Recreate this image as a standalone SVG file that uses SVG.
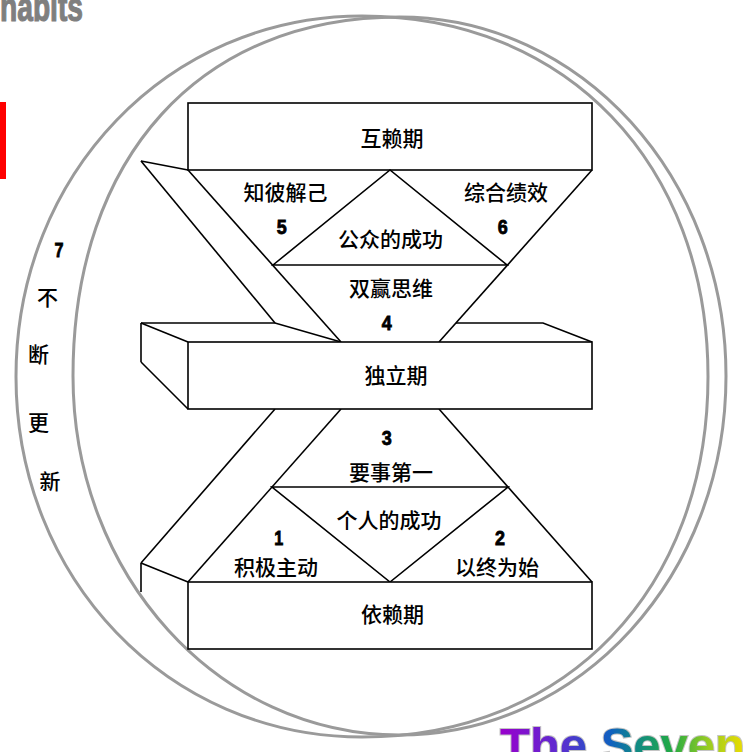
<svg xmlns="http://www.w3.org/2000/svg" width="747" height="752" viewBox="0 0 747 752">
<style>
.ring{fill:none;stroke:#9a9a9a;stroke-width:3}
.ln{fill:none;stroke:#000;stroke-width:1.6;stroke-linejoin:miter}
.box{fill:#fff;stroke:#000;stroke-width:1.6}
.cn{font-family:"Noto Sans CJK SC","Noto Sans",sans-serif;font-size:21px;font-weight:500;fill:#000;text-anchor:middle;dominant-baseline:central}
.num{font-family:"Liberation Sans Narrow","Liberation Sans",sans-serif;font-size:20px;font-weight:bold;fill:#000;stroke:#000;stroke-width:0.8;text-anchor:middle}
</style>
<defs>
<linearGradient id="rainbow" gradientUnits="userSpaceOnUse" x1="500" y1="0" x2="745" y2="0">
<stop offset="0" stop-color="#9900cc"/>
<stop offset="0.25" stop-color="#5a2ed0"/>
<stop offset="0.45" stop-color="#1060c0"/>
<stop offset="0.55" stop-color="#108888"/>
<stop offset="0.7" stop-color="#22aa44"/>
<stop offset="0.85" stop-color="#99cc22"/>
<stop offset="1" stop-color="#eedd00"/>
</linearGradient>
</defs>
<rect x="0" y="0" width="747" height="752" fill="#fff"/>

<!-- header remnants -->
<text x="0" y="21" font-family="'Liberation Sans Narrow','Liberation Sans',sans-serif" font-size="40" font-weight="bold" fill="#7f7f7f" stroke="#7f7f7f" stroke-width="1.2" textLength="83" lengthAdjust="spacingAndGlyphs">habits</text>
<rect x="0" y="102" width="6" height="77" fill="#ff0000"/>

<!-- renewal rings -->
<g id="renewal-rings">
<path class="ring" d="M16,376.5 C16,174.6 168.2,16 362,16 C566.1,16 708,163.8 708,376.5 C708,589.2 566.1,737 362,737 C168.2,737 16,578.4 16,376.5 Z"/>
<path class="ring" d="M73,376 C73,157 200.3,17 399.5,17 C580.7,17 726,176.8 726,376 C726,575.2 580.7,735 399.5,735 C218.3,735 73,575.2 73,376 Z"/>
</g>

<!-- connectors -->
<g id="connectors">
<line class="ln" x1="141" y1="161" x2="188" y2="170"/>
<line class="ln" x1="141" y1="161" x2="275" y2="323"/>
<line class="ln" x1="188" y1="170" x2="341" y2="342"/>
<line class="ln" x1="592" y1="170" x2="439" y2="342"/>
<line class="ln" x1="141" y1="323" x2="141" y2="362"/>
<line class="ln" x1="141" y1="362" x2="188" y2="409"/>
<line class="ln" x1="141" y1="323" x2="188" y2="342"/>
<polyline class="ln" points="141,323 275,323 341,342"/>
<polyline class="ln" points="456,323 543,323 592,342"/>
<line class="ln" x1="275" y1="409" x2="141" y2="563"/>
<line class="ln" x1="341" y1="409" x2="188" y2="582"/>
<line class="ln" x1="439" y1="409" x2="592" y2="582"/>
<line class="ln" x1="141" y1="563" x2="188" y2="582"/>
<line class="ln" x1="141" y1="563" x2="141" y2="592"/>
</g>

<g id="interdependence">
<rect class="box" x="188" y="103" width="404" height="67"/>
<text class="cn" x="392" y="137">互赖期</text>
</g>

<g id="public-victory">
<polygon class="ln" points="273,265 390,170 507,265"/>
<text class="cn" x="390.5" y="237.5">公众的成功</text>
</g>

<g id="habit5">
<text class="cn" x="285.5" y="191">知彼解己</text>
<text class="num" x="281.7" y="234" textLength="10" lengthAdjust="spacingAndGlyphs">5</text>
</g>

<g id="habit6">
<text class="cn" x="506" y="191">综合绩效</text>
<text class="num" x="502.7" y="234" textLength="10" lengthAdjust="spacingAndGlyphs">6</text>
</g>

<g id="habit4">
<text class="cn" x="391" y="286.5">双赢思维</text>
<text class="num" x="386.7" y="330" textLength="10" lengthAdjust="spacingAndGlyphs">4</text>
</g>

<g id="independence">
<rect class="box" x="188" y="342" width="404" height="67"/>
<text class="cn" x="396" y="373.5">独立期</text>
</g>

<g id="habit3">
<text class="num" x="386.7" y="445" textLength="10" lengthAdjust="spacingAndGlyphs">3</text>
<text class="cn" x="391" y="470.5">要事第一</text>
</g>

<g id="private-victory">
<polygon class="ln" points="272,487 508,487 390,582"/>
<text class="cn" x="389" y="518.5">个人的成功</text>
</g>

<g id="habit1">
<text class="num" x="278.7" y="545" textLength="9" lengthAdjust="spacingAndGlyphs">1</text>
<text class="cn" x="276" y="566">积极主动</text>
</g>

<g id="habit2">
<text class="num" x="500" y="545" textLength="10" lengthAdjust="spacingAndGlyphs">2</text>
<text class="cn" x="497" y="566">以终为始</text>
</g>

<g id="dependence">
<rect class="box" x="188" y="582" width="404" height="67"/>
<text class="cn" x="392.5" y="613">依赖期</text>
</g>

<g id="habit7">
<text class="num" x="59" y="257" textLength="9" lengthAdjust="spacingAndGlyphs">7</text>
<text class="cn" x="47.5" y="296">不</text>
<text class="cn" x="38.5" y="353">断</text>
<text class="cn" x="38.5" y="421">更</text>
<text class="cn" x="50" y="480">新</text>
</g>

<!-- title remnant -->
<text x="500" y="762" font-family="'Liberation Sans','Arial',sans-serif" font-size="48" font-weight="bold" fill="url(#rainbow)" stroke="#c4c4c4" stroke-width="2" paint-order="stroke" textLength="245" lengthAdjust="spacingAndGlyphs">The Seven</text>
</svg>
